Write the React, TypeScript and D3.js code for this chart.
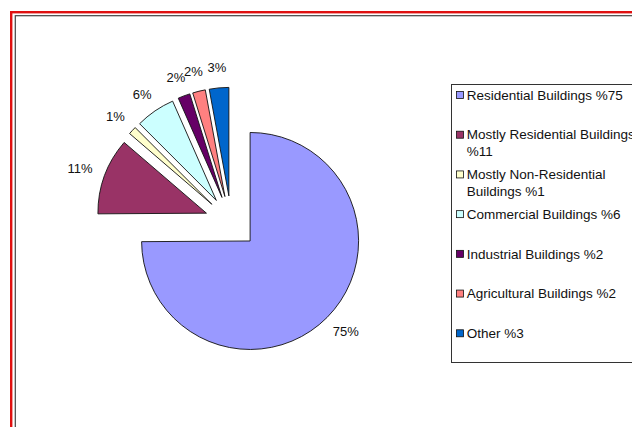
import { arc as d3Arc, pie as d3Pie, scaleBand } from 'd3';

// slice data (labels show rounded values)
const categories = [
  'Residential Buildings',
  'Mostly Residential Buildings',
  'Mostly Non-Residential Buildings',
  'Commercial Buildings',
  'Industrial Buildings',
  'Agricultural Buildings',
  'Other',
];
const values = [74.9, 11.4, 1.2, 5.9, 1.8, 1.9, 2.9];
const colors = ['#9999ff', '#993366', '#ffffcc', '#ccffff', '#660066', '#ff8080', '#0066cc'];

const W = 632;
const H = 427;
const FONT = 'Arial, "Liberation Sans", sans-serif';

// centre of the (exploded) pie and its size
const CX = 231.3;
const CY = 222.3;
const RADIUS = 108.5;
const EXPLODE = 26.5;

// legend box
const LEGEND = { x: 451, y: 84, w: 200, h: 278 };
const LEGEND_FONT = 13.5;
const WRAP = 178;

let ctx: CanvasRenderingContext2D | null = null;
const measure = (txt: string, size: number) => {
  if (!ctx) ctx = document.createElement('canvas').getContext('2d');
  if (!ctx) return txt.length * size * 0.55;
  ctx.font = `${size}px ${FONT}`;
  return ctx.measureText(txt).width;
};

// simple word wrap for legend entries
const wrap = (txt: string, size: number, maxW: number) => {
  const words = txt.split(' ');
  const lines: string[] = [];
  let cur = '';
  words.forEach((w) => {
    const test = cur ? cur + ' ' + w : w;
    if (cur && measure(test, size) > maxW) {
      lines.push(cur);
      cur = w;
    } else {
      cur = test;
    }
  });
  if (cur) lines.push(cur);
  return lines;
};

const App = () => {
  const slices = d3Pie<number>()
    .sort(null)
    .value((d) => d)
    .startAngle(0)
    .endAngle(Math.PI * 2)(values);

  const arcGen = d3Arc<any>().innerRadius(0).outerRadius(RADIUS);

  const legendY = scaleBand<string>()
    .domain(categories)
    .range([LEGEND.y, LEGEND.y + LEGEND.h]);

  return (
    <svg
      width={W}
      height={H}
      style={{ position: 'absolute', left: 0, top: 0, background: '#fff' }}
    >
      {/* outer frame */}
      <rect x={11.2} y={12.2} width={W + 20} height={H + 20} fill="#fff" stroke="#e01010" strokeWidth={2.4} />
      <rect x={15.3} y={15.7} width={W + 20} height={H + 20} fill="none" stroke="#444" strokeWidth={1.2} />

      {/* pie slices, every one pushed out along its bisector */}
      {slices.map((s, i) => {
        const mid = (s.startAngle + s.endAngle) / 2;
        const dx = Math.sin(mid);
        const dy = -Math.cos(mid);
        const ox = CX + dx * EXPLODE;
        const oy = CY + dy * EXPLODE;
        const label = `${Math.round(values[i])}%`;
        const tw = measure(label, 13);
        const ax = ox + dx * (RADIUS + 13.5);
        const ay = oy + dy * (RADIUS + 13.5);
        return (
          <g key={categories[i]}>
            <path
              d={arcGen(s) || ''}
              transform={`translate(${ox},${oy})`}
              fill={colors[i]}
              stroke="#111"
              strokeWidth={0.9}
              strokeLinejoin="round"
            />
            <text
              x={ax + (dx * tw) / 2}
              y={ay + (dy * 13) / 2}
              dy="0.35em"
              textAnchor="middle"
              fontFamily={FONT}
              fontSize={13}
              fill="#111"
            >
              {label}
            </text>
          </g>
        );
      })}

      {/* legend */}
      <rect
        x={LEGEND.x + 0.5}
        y={LEGEND.y + 0.5}
        width={LEGEND.w}
        height={LEGEND.h}
        fill="#fff"
        stroke="#333"
        strokeWidth={1}
      />
      {categories.map((c, i) => {
        const lines = wrap(`${c} %${Math.round(values[i])}`, LEGEND_FONT, WRAP);
        const y0 = (legendY(c) ?? 0) + 11;
        return (
          <g key={c}>
            <rect
              x={456.5}
              y={y0 - 3.5}
              width={7}
              height={7}
              fill={colors[i]}
              stroke="#111"
              strokeWidth={0.8}
            />
            {lines.map((ln, j) => (
              <text
                key={j}
                x={466.7}
                y={y0 + j * 16.5}
                dy="0.35em"
                fontFamily={FONT}
                fontSize={LEGEND_FONT}
                fill="#111"
              >
                {ln}
              </text>
            ))}
          </g>
        );
      })}
    </svg>
  );
};

export default App;
